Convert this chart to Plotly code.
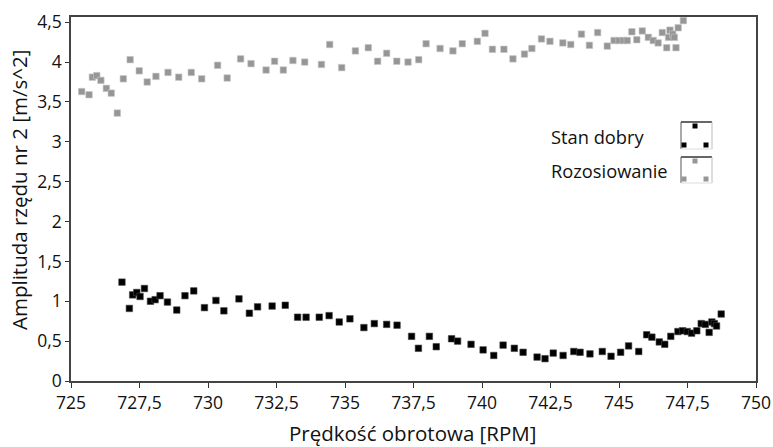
import plotly.graph_objects as go

# ---- data ----
rpm_rozos = [725.39, 725.66, 725.78, 725.94, 726.09, 726.29, 726.47, 726.69, 726.91, 727.16,
             727.49, 727.78, 728.10, 728.54, 728.93, 729.39, 729.77, 730.35, 730.70, 731.19,
             731.57, 732.12, 732.43, 732.75, 733.10, 733.53, 734.14, 734.44, 734.88, 735.38,
             735.85, 736.19, 736.52, 736.89, 737.30, 737.69, 737.96, 738.47, 738.94, 739.28,
             739.83, 740.11, 740.38, 740.80, 741.13, 741.55, 741.82, 742.17, 742.48, 742.95,
             743.24, 743.63, 743.92, 744.22, 744.57, 744.82, 745.00, 745.16, 745.30, 745.47,
             745.65, 745.85, 746.07, 746.25, 746.43, 746.58, 746.74, 746.81, 746.86, 746.96,
             747.02, 747.08, 747.16, 747.35]
amp_rozos = [3.63, 3.59, 3.81, 3.83, 3.77, 3.67, 3.61, 3.36, 3.79, 4.03,
             3.89, 3.75, 3.82, 3.87, 3.81, 3.87, 3.79, 3.96, 3.80, 4.04,
             3.98, 3.90, 4.01, 3.90, 4.02, 4.00, 3.97, 4.22, 3.93, 4.14,
             4.18, 4.01, 4.11, 4.01, 4.00, 4.03, 4.23, 4.17, 4.14, 4.23,
             4.26, 4.36, 4.16, 4.16, 4.04, 4.10, 4.17, 4.29, 4.26, 4.24,
             4.22, 4.35, 4.21, 4.37, 4.20, 4.27, 4.27, 4.27, 4.27, 4.38,
             4.28, 4.39, 4.31, 4.27, 4.24, 4.37, 4.18, 4.31, 4.40, 4.35,
             4.31, 4.18, 4.43, 4.52]

rpm_dobry = [726.86, 727.13, 727.25, 727.40, 727.52, 727.68, 727.90, 728.07, 728.25, 728.52,
             728.86, 729.16, 729.48, 729.87, 730.29, 730.58, 731.13, 731.51, 731.81, 732.34,
             732.82, 733.27, 733.58, 734.06, 734.42, 734.79, 735.18, 735.69, 736.07, 736.52,
             736.90, 737.43, 737.68, 738.08, 738.33, 738.89, 739.11, 739.60, 740.04, 740.43,
             740.77, 741.18, 741.50, 742.01, 742.30, 742.60, 742.96, 743.35, 743.58, 743.94,
             744.39, 744.71, 745.06, 745.35, 745.72, 746.01, 746.20, 746.47, 746.67, 746.89,
             747.15, 747.32, 747.49, 747.65, 747.84, 748.00, 748.15, 748.29, 748.39, 748.48,
             748.56, 748.73]
amp_dobry = [1.24, 0.91, 1.08, 1.11, 1.06, 1.16, 1.00, 1.02, 1.07, 0.99,
             0.89, 1.07, 1.13, 0.92, 1.01, 0.88, 1.03, 0.85, 0.93, 0.94,
             0.95, 0.80, 0.80, 0.80, 0.82, 0.74, 0.78, 0.67, 0.72, 0.71,
             0.70, 0.56, 0.41, 0.56, 0.43, 0.53, 0.50, 0.46, 0.39, 0.32,
             0.45, 0.41, 0.36, 0.30, 0.28, 0.35, 0.32, 0.37, 0.36, 0.34,
             0.37, 0.31, 0.36, 0.44, 0.37, 0.58, 0.55, 0.49, 0.46, 0.56,
             0.62, 0.63, 0.62, 0.60, 0.63, 0.72, 0.71, 0.61, 0.74, 0.72,
             0.69, 0.84]

series_names = ["Stan dobry", "Rozosiowanie"]
series_colors = ["#000000", "#969696"]

x_ticks = [725, 727.5, 730, 732.5, 735, 737.5, 740, 742.5, 745, 747.5, 750]
y_ticks = [0, 0.5, 1, 1.5, 2, 2.5, 3, 3.5, 4, 4.5]

x_title = "Prędkość obrotowa [RPM]"
y_title = "Amplituda rzędu nr 2 [m/s^2]"

FONT = "Open Sans"

fig = go.Figure()
fig.add_trace(go.Scatter(x=rpm_rozos, y=amp_rozos, mode="markers", name=series_names[1],
                         marker=dict(symbol="square", size=6.5, color=series_colors[1],
                                     line=dict(width=0.6, color="#c8c8c8")),
                         showlegend=False, cliponaxis=False))
fig.add_trace(go.Scatter(x=rpm_dobry, y=amp_dobry, mode="markers", name=series_names[0],
                         marker=dict(symbol="square", size=6.5, color=series_colors[0],
                                     line=dict(width=0.6, color="#444444")),
                         showlegend=False))

W, H = 773, 447
L, R, T, B = 71, 17, 17, 66
pw, ph = W - L - R, H - T - B


def px(xp):
    return (xp - L) / pw


def py(yp):
    return (H - B - yp) / ph


shapes = []
annotations = []
# custom legend
legend_rows = [(series_names[0], series_colors[0], 122, 149),
               (series_names[1], series_colors[1], 157, 183)]
for name, col, top, bot in legend_rows:
    bx0, bx1 = 681, 712
    shapes.append(dict(type="line", xref="paper", yref="paper", x0=px(bx0), x1=px(bx1), y0=py(top), y1=py(top),
                       line=dict(color="#333333", width=1.5)))
    shapes.append(dict(type="line", xref="paper", yref="paper", x0=px(bx0), x1=px(bx0), y0=py(top), y1=py(bot),
                       line=dict(color="#555555", width=1)))
    shapes.append(dict(type="line", xref="paper", yref="paper", x0=px(bx1), x1=px(bx1), y0=py(top), y1=py(bot),
                       line=dict(color="#bbbbbb", width=1)))
    shapes.append(dict(type="line", xref="paper", yref="paper", x0=px(bx0), x1=px(bx1), y0=py(bot), y1=py(bot),
                       line=dict(color="#dddddd", width=1)))
    for cx, cy in [(695, top + 4), (684, bot - 4), (706, bot - 4)]:
        shapes.append(dict(type="rect", xref="paper", yref="paper",
                           x0=px(cx - 2.5), x1=px(cx + 2.5), y0=py(cy + 2.5), y1=py(cy - 2.5),
                           fillcolor=col, line=dict(width=0)))
    annotations.append(dict(text=name, xref="paper", yref="paper", x=px(549), y=py((top + bot) / 2 + 0.5),
                            xanchor="left", yanchor="middle", showarrow=False,
                            font=dict(family=FONT, size=18.3, color="#111111")))

# axis titles
annotations.append(dict(text=x_title, xref="paper", yref="paper", x=px(412), y=py(433),
                        xanchor="center", yanchor="middle", showarrow=False,
                        font=dict(family=FONT, size=20.5, color="#111111")))
annotations.append(dict(text=y_title, xref="paper", yref="paper", x=px(19), y=py(190),
                        xanchor="center", yanchor="middle", showarrow=False, textangle=-90,
                        font=dict(family=FONT, size=20.5, color="#111111")))

fig.update_layout(
    width=W, height=H,
    margin=dict(l=L, r=R, t=T, b=B, autoexpand=False),
    paper_bgcolor="white", plot_bgcolor="white",
    separators=", ",
    font=dict(family=FONT, color="#111111"),
    shapes=shapes,
    annotations=annotations,
    xaxis=dict(range=[725, 750], tickvals=x_ticks, ticks="outside", ticklen=5, tickcolor="#333",
               showgrid=False, zeroline=False, showline=True, linecolor="#444444", linewidth=1.5,
               mirror=True, automargin=False, tickfont=dict(size=17.5, family=FONT, color="#111")),
    yaxis=dict(range=[0, 4.565], tickvals=y_ticks, ticks="outside", ticklen=4, tickcolor="#333",
               showgrid=False, zeroline=False, showline=True, linecolor="#444444", linewidth=1.5,
               mirror=True, automargin=False, tickfont=dict(size=17.5, family=FONT, color="#111")),
)

fig.write_html("out.html", config={"displayModeBar": False},
               post_script="document.body.style.margin='0';document.body.style.overflow='hidden';")
